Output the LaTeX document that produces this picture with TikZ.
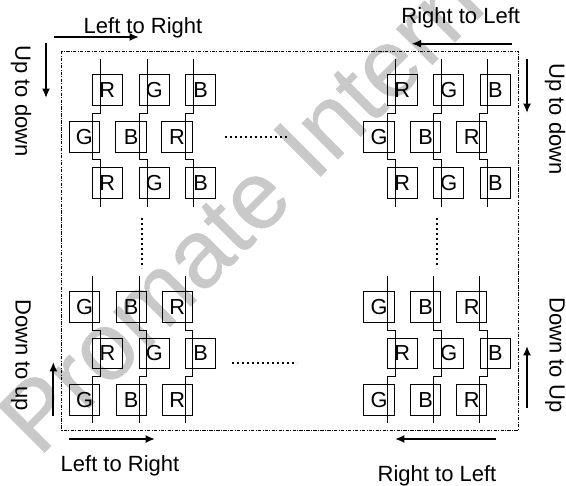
\documentclass[tikz,border=0pt]{standalone}
\usepackage{fontspec}
\usetikzlibrary{arrows.meta}
\setmainfont{Liberation Sans}
\newfontfamily\wmfont[FakeBold=0.5]{Liberation Sans}
\begin{document}
\begin{tikzpicture}[x=0.75pt,y=-0.75pt,
  every node/.style={inner sep=0pt,outer sep=0pt},
  cell/.style={draw=black,line width=0.7pt,minimum width=22.6pt,minimum height=23pt,font=\fontsize{16.3}{18}\selectfont},
  wire/.style={draw=black,line width=0.7pt},
  lab/.style={font=\fontsize{16.5}{19}\selectfont},
  arr/.style={draw=black,line width=1.3pt,-{Latex[length=7pt,width=6pt]}},
  frame/.style={draw=black,line width=0.6pt,dash pattern=on 2.5pt off 1pt on 0.7pt off 1pt},
  dots/.style={draw=black,line width=1pt,dash pattern=on 1.2pt off 2.55pt},
  wm/.style={text=black!21,font=\wmfont\fontsize{72}{80}\selectfont,anchor=base west,rotate=45}]
\useasboundingbox (0,0) rectangle (566,485);
\clip (0,0) rectangle (566,485);
\fill[white] (0,0) rectangle (566,485);
\node[wm] (mark) at (39,458) {Promate Intern};
\draw[frame] (61.7,51) rectangle (518.3,430.3);

% G B R / R G B cells
\foreach \n/\t/\x/\y in {
 a1/R/107.3/90, a2/G/154.3/90, a3/B/200.5/90,
 a4/G/84.3/137, a5/B/131/137, a6/R/177/137,
 a7/R/107.3/183, a8/G/154.3/183, a9/B/200.5/183,
 b1/R/402.2/90, b2/G/448.7/90, b3/B/495.3/90,
 b4/G/379/137, b5/B/425.7/137, b6/R/471.7/137,
 b7/R/402.2/183, b8/G/448.7/183, b9/B/495.3/183,
 c1/G/84.5/307, c2/B/131.2/307, c3/R/177.2/307,
 c4/R/107.5/353.3, c5/G/154.3/353.3, c6/B/200.5/353.3,
 c7/G/84.5/399.7, c8/B/131.2/399.7, c9/R/177.2/399.7,
 d1/G/379/307, d2/B/425.7/307, d3/R/471.7/307,
 d4/R/402.2/353.3, d5/G/448.7/353.3, d6/B/495.3/353.3,
 d7/G/379/399.7, d8/B/425.7/399.7, d9/R/471.7/399.7}
  \node[cell] (\n) at (\x,\y) {\t};

% top wires: right, jog left, back right
\foreach \r/\l in {100.3/92,147.3/139.3,193.3/185.3,395/387,441/433.7,487.7/479.7}
  \draw[wire] (\r,59.3) -- (\r,113) -- (\l,113) -- (\l,159) -- (\r,159) -- (\r,206.7);
% bottom wires: left, jog right, back left
\foreach \l/\r in {92/100,139.3/146.7,185.3/192.7,387/395,433.7/441,479.7/487.7}
  \draw[wire] (\l,276) -- (\l,330.7) -- (\r,330.7) -- (\r,376.7) -- (\l,376.7) -- (\l,423.3);

% continuation dots
\coordinate (h1s) at (225,137); \coordinate (h1e) at (289,137);
\coordinate (h2s) at (232,363); \coordinate (h2e) at (297,363);
\coordinate (v1s) at (142,218); \coordinate (v1e) at (142,268);
\coordinate (v2s) at (437,218); \coordinate (v2e) at (437,268);
\foreach \s/\e in {h1s/h1e,h2s/h2e,v1s/v1e,v2s/v2e}
  \draw[dots] (\s) -- (\e);

% direction arrows
\coordinate (t1s) at (54,37); \coordinate (t1e) at (139,37);
\coordinate (t2s) at (511.7,43.7); \coordinate (t2e) at (411.7,43.7);
\coordinate (l1s) at (46,43.3); \coordinate (l1e) at (46,98);
\coordinate (r1s) at (527,59); \coordinate (r1e) at (527,113);
\coordinate (l2s) at (53.3,415.7); \coordinate (l2e) at (53.3,362);
\coordinate (r2s) at (527,407.7); \coordinate (r2e) at (527,346);
\coordinate (b1s) at (69,439); \coordinate (b1e) at (155,439);
\coordinate (b2s) at (495.7,439); \coordinate (b2e) at (395,439);
\foreach \s/\e in {t1s/t1e,t2s/t2e,l1s/l1e,r1s/r1e,l2s/l2e,r2s/r2e,b1s/b1e,b2s/b2e}
  \draw[arr] (\s) -- (\e);

% labels
\node[lab] (n1) at (143,28) {Left to Right};
\node[lab] (n2) at (460.7,18) {Right to Left};
\node[lab,rotate=-90] (n3) at (21,101) {Up to down};
\node[lab,rotate=-90] (n4) at (555,119) {Up to down};
\node[lab,rotate=-90] (n5) at (21,355) {Down to up};
\node[lab,rotate=-90] (n6) at (555,355) {Down to Up};
\node[lab] (n7) at (120,466) {Left to Right};
\node[lab] (n8) at (437,476) {Right to Left};
\end{tikzpicture}
\end{document}
